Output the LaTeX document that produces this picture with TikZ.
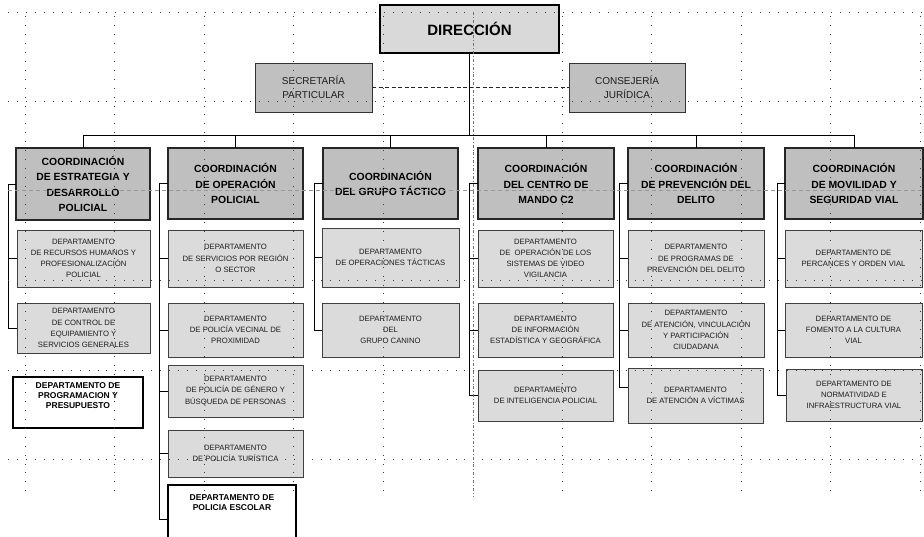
\documentclass[tikz,border=0pt]{standalone}
\usepackage{fontspec}
\setmainfont{Liberation Sans}
\definecolor{dirfill}{HTML}{D9D9D9}
\definecolor{secfill}{HTML}{C0C0C0}
\definecolor{coordfill}{HTML}{BFBFBF}
\definecolor{deptfill}{HTML}{DBDBDB}
\definecolor{txtgray}{HTML}{1E1E1E}
\newcommand{\orgbox}[7]{%
  \pgfmathsetmacro{\obw}{#4-#2}%
  \pgfmathsetmacro{\obh}{#5-#3}%
  \pgfmathsetmacro{\obx}{(#2+#4)/2}%
  \pgfmathsetmacro{\oby}{(#3+#5)/2}%
  \node[#6, minimum width=\obw pt, minimum height=\obh pt] (#1) at (\obx,\oby) {#7};}
\tikzset{
  base/.style={align=center, inner sep=0pt, outer sep=0pt},
  dirbox/.style={base, draw=black, line width=2.8pt, fill=dirfill, font=\fontsize{15}{18}\selectfont\bfseries},
  secbox/.style={base, draw=black!80, line width=1pt, fill=secfill, text=txtgray, font=\fontsize{10}{14}\selectfont},
  coordbox/.style={base, draw=black!85, line width=1.2pt, fill=coordfill, font=\fontsize{10.4}{15.5}\selectfont\bfseries},
  deptbox/.style={base, draw=black!75, line width=1pt, fill=deptfill, text=txtgray, font=\fontsize{7.7}{11.2}\selectfont},
  deptbold/.style={base, draw=black, line width=2pt, fill=white, font=\fontsize{8.5}{10}\selectfont\bfseries},
  boldtext/.style={base, font=\fontsize{8.5}{10}\selectfont\bfseries},
  conn/.style={draw=black, line width=0.9pt},
  dashconn/.style={draw=black!85, line width=0.9pt, dash pattern=on 4pt off 2.5pt},
  gridl/.style={draw=black!75, line width=0.8pt, dash pattern=on 0.8pt off 8.15pt},
  pagev/.style={draw=black!55, line width=0.6pt, dash pattern=on 3pt off 2pt on 0.8pt off 2pt},
  pageh/.style={draw=black!40, line width=0.8pt, dash pattern=on 4pt off 3pt}
}
\begin{document}
\begin{tikzpicture}[x=1pt,y=-1pt]
\useasboundingbox (0,0) rectangle (924,536);
\clip (0,0) rectangle (924,536);
\fill[white] (0,0) rectangle (924,536);

% top level
\orgbox{dir}{380}{5}{559}{53}{dirbox}{DIRECCIÓN}
\orgbox{sec}{255}{63}{372}{112}{secbox}{SECRETARÍA\\PARTICULAR}
\orgbox{con}{569}{63}{685}{112}{secbox}{CONSEJERÍA\\JURÍDICA}

% coordinations
\orgbox{c1}{16}{148}{150}{220}{coordbox}{COORDINACIÓN\\DE ESTRATEGIA Y\\DESARROLLO\\POLICIAL}
\orgbox{c2}{168}{148}{303}{219}{coordbox}{COORDINACIÓN\\DE OPERACIÓN\\POLICIAL}
\orgbox{c3}{323}{148}{458}{219}{coordbox}{COORDINACIÓN\\DEL GRUPO TÁCTICO}
\orgbox{c4}{478}{148}{614}{219}{coordbox}{COORDINACIÓN\\DEL CENTRO DE\\MANDO C2}
\orgbox{c5}{628}{148}{764}{219}{coordbox}{COORDINACIÓN\\DE PREVENCIÓN DEL\\DELITO}
\orgbox{c6}{785}{148}{923}{219}{coordbox}{COORDINACIÓN\\DE MOVILIDAD Y\\SEGURIDAD VIAL}

% column 1
\orgbox{d11}{17}{230}{150}{287}{deptbox}{DEPARTAMENTO\\DE RECURSOS HUMANOS Y\\PROFESIONALIZACIÓN\\POLICIAL}
\orgbox{d12}{17}{303}{150}{353}{deptbox}{DEPARTAMENTO\\DE CONTROL DE\\EQUIPAMIENTO Y\\SERVICIOS GENERALES}
\orgbox{d13}{13}{377}{143}{428}{deptbold}{DEPARTAMENTO DE\\PROGRAMACION Y\\PRESUPUESTO\\[3pt]}

% column 2
\orgbox{d21}{168}{230}{303}{287}{deptbox}{DEPARTAMENTO\\DE SERVICIOS POR REGIÓN\\O SECTOR}
\orgbox{d22}{168}{303}{303}{357}{deptbox}{DEPARTAMENTO\\DE POLICÍA VECINAL DE\\PROXIMIDAD}
\orgbox{d23}{168}{365}{303}{417}{deptbox}{DEPARTAMENTO\\DE POLICÍA DE GÉNERO Y\\BÚSQUEDA DE PERSONAS}
\orgbox{d24}{168}{430}{303}{477}{deptbox}{DEPARTAMENTO\\DE POLICÍA TURÍSTICA}
\orgbox{d25}{168}{485}{296}{553}{deptbold}{}
\node[boldtext, anchor=north] (d25t) at ([yshift=-10pt]d25.north) {DEPARTAMENTO DE\\POLICIA ESCOLAR};

% column 3
\orgbox{d31}{322}{228}{459}{287}{deptbox}{DEPARTAMENTO\\DE OPERACIONES TÁCTICAS}
\orgbox{d32}{322}{303}{459}{357}{deptbox}{DEPARTAMENTO\\DEL\\GRUPO CANINO}

% column 4
\orgbox{d41}{478}{230}{613}{287}{deptbox}{DEPARTAMENTO\\DE \ OPERACIÓN DE LOS\\SISTEMAS DE VIDEO\\VIGILANCIA}
\orgbox{d42}{478}{303}{613}{357}{deptbox}{DEPARTAMENTO\\DE INFORMACIÓN\\ESTADÍSTICA Y GEOGRÁFICA}
\orgbox{d43}{478}{370}{613}{421}{deptbox}{DEPARTAMENTO\\DE INTELIGENCIA POLICIAL}

% column 5
\orgbox{d51}{628}{230}{764}{287}{deptbox}{DEPARTAMENTO\\DE PROGRAMAS DE\\PREVENCIÓN DEL DELITO}
\orgbox{d52}{628}{303}{764}{357}{deptbox}{DEPARTAMENTO\\DE ATENCIÓN, VINCULACIÓN\\Y PARTICIPACIÓN\\CIUDADANA}
\orgbox{d53}{628}{368}{763}{423}{deptbox}{DEPARTAMENTO\\DE ATENCIÓN A VÍCTIMAS}

% column 6
\orgbox{d61}{785}{230}{922}{287}{deptbox}{DEPARTAMENTO DE\\PERCANCES Y ORDEN VIAL}
\orgbox{d62}{785}{303}{922}{357}{deptbox}{DEPARTAMENTO DE\\FOMENTO A LA CULTURA\\VIAL}
\orgbox{d63}{786}{369}{922}{421}{deptbox}{DEPARTAMENTO DE\\NORMATIVIDAD E\\INFRAESTRUCTURA VIAL}

% connectors top
\coordinate (bus) at (0,135);
\draw[dashconn] (sec.east) -- (con.west);
\draw[conn] (dir.south) -- (dir.south |- bus);
\draw[conn] (c1.north |- bus) -- (c6.north |- bus);
\foreach \c in {c1,c2,c3,c4,c5,c6} \draw[conn] (\c.north) -- (\c.north |- bus);

% brackets
\coordinate (v1) at (8,0);
\coordinate (v2) at (159,0);
\coordinate (v3) at (314,0);
\coordinate (v4) at (469,0);
\coordinate (v5) at (619,0);
\coordinate (v6) at (777,0);
\draw[conn] (c1.west) -- (c1.west -| v1) -- (d12.west -| v1) -- (d12.west);
\draw[conn] (d11.west -| v1) -- (d11.west);
\draw[conn] (c2.west) -- (c2.west -| v2) -- (d25.west -| v2) -- (d25.west);
\foreach \d in {d21,d22,d23,d24} \draw[conn] (\d.west -| v2) -- (\d.west);
\draw[conn] (c3.west) -- (c3.west -| v3) -- (d32.west -| v3) -- (d32.west);
\draw[conn] (d31.west -| v3) -- (d31.west);
\draw[conn] (c4.west) -- (c4.west -| v4) -- (d43.west -| v4) -- (d43.west);
\foreach \d in {d41,d42} \draw[conn] (\d.west -| v4) -- (\d.west);
\draw[conn] (c5.west) -- (c5.west -| v5) -- ([yshift=8pt]d53.west -| v5) -- ([yshift=8pt]d53.west);
\foreach \d in {d51,d52} \draw[conn] (\d.west -| v5) -- (\d.west);
\draw[conn] (c6.west) -- (c6.west -| v6) -- (d63.west -| v6) -- (d63.west);
\foreach \d in {d61,d62} \draw[conn] (\d.west -| v6) -- (\d.west);

% page grid
\foreach \gx in {25,114.5,204,293.5,383,562,651.5,741,830.5,920}
  \draw[gridl] (\gx,16) -- (\gx,496);
\foreach \gy in {12,101.5,280.5,370,459.5}
  \draw[gridl] (8,\gy) -- (924,\gy);
\draw[pagev] (473,12) -- (473,496);
\draw[pageh] (8,190.5) -- (924,190.5);
\end{tikzpicture}
\end{document}
